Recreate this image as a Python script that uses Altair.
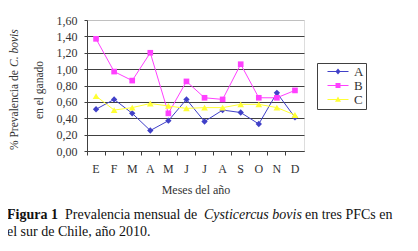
import json
import altair as alt
import pandas as pd

# ---- data ----
meses = ["E", "F", "M", "A", "M", "J", "J", "A", "S", "O", "N", "D"]
series = ["A", "B", "C"]
serie_a = [0.51, 0.63, 0.46, 0.25, 0.37, 0.63, 0.36, 0.50, 0.47, 0.33, 0.71, 0.41]
serie_b = [1.37, 0.97, 0.86, 1.20, 0.46, 0.85, 0.65, 0.63, 1.06, 0.65, 0.65, 0.74]
serie_c = [0.67, 0.50, 0.53, 0.58, 0.55, 0.52, 0.53, 0.53, 0.57, 0.57, 0.53, 0.44]
ticks_y = [0.0, 0.2, 0.4, 0.6, 0.8, 1.0, 1.2, 1.4, 1.6]

titulo_x = "Meses del año"
titulo_y1 = "% Prevalencia de "
titulo_y1_it = "C. bovis"
titulo_y2 = "en el ganado"
cap_bold = "Figura 1"
cap_1 = "Prevalencia mensual de"
cap_it = "Cysticercus bovis"
cap_2 = "en tres PFCs en"
cap_3 = "el sur de Chile, año 2010."

# ---- styles ----
colores = ["#4040c8", "#ff40ff", "#ffff33"]
formas = ["diamond", "square", "triangle-up"]
tamanos = [40, 32, 45]
linea = "M-2.1,-0.1H2.1V0.1H-2.1Z "
formas_leyenda = [
    linea + "M0,-0.6L0.5,0L0,0.6L-0.5,0Z",
    linea + "M-0.5,-0.5H0.5V0.5H-0.5Z",
    linea + "M0,-0.6L0.6,0.45H-0.6Z",
]
SERIF = "Liberation Serif, Times New Roman, serif"

rows = []
for nombre, vals in zip(series, [serie_a, serie_b, serie_c]):
    for i, v in enumerate(vals):
        rows.append({"mes": i, "serie": nombre, "valor": v})
df = pd.DataFrame(rows)

label_expr = json.dumps(meses) + "[datum.value]"

x_enc = alt.X(
    "mes:O",
    scale=alt.Scale(type="band", paddingInner=0, paddingOuter=0),
    axis=alt.Axis(
        title=titulo_x, bandPosition=0, labelExpr=label_expr,
        labelAngle=0, labelFont=SERIF, labelFontSize=12, labelColor="#333333",
        labelPadding=8, tickSize=4, tickColor="#404040", domainColor="#404040",
        titleFont=SERIF, titleFontSize=12, titleFontWeight="normal",
        titleColor="#333333", titlePadding=10, grid=False,
    ),
)
y_enc = alt.Y(
    "valor:Q",
    scale=alt.Scale(domain=[0, 1.6], nice=False),
    axis=alt.Axis(
        title=None, values=ticks_y,
        labelExpr="replace(format(datum.value, '.2f'), '.', ',')",
        labelFont=SERIF, labelFontSize=12, labelColor="#333333", labelPadding=7,
        tickSize=3, tickColor="#404040", domainColor="#404040",
        grid=True,
        gridColor={"condition": {"test": "datum.value >= 1.6", "value": "#c0c0c0"},
                   "value": "#404040"},
    ),
)

base = alt.Chart(df)

capas = []
for nombre, col in zip(series, colores):
    capas.append(
        base.transform_filter(alt.datum.serie == nombre)
        .mark_line(strokeWidth=1, color=col)
        .encode(x=x_enc, y=y_enc)
    )
for nombre, col, forma, tam in zip(series, colores, formas, tamanos):
    capas.append(
        base.transform_filter(alt.datum.serie == nombre)
        .mark_point(filled=True, shape=forma, size=tam, color=col, opacity=1)
        .encode(x=x_enc, y=y_enc)
    )

leg = alt.Legend(
    title=None, orient="none", legendX=230, legendY=43,
    strokeColor="#404040", fillColor="white", padding=2,
    symbolSize=100, symbolOffset=12.5, labelOffset=9.5, rowPadding=-2,
    labelFont=SERIF, labelFontSize=13, labelColor="#333333",
    symbolStrokeWidth=0, cornerRadius=0,
)
leyenda = base.transform_filter("datum.valor < 0").mark_point(
    filled=True, opacity=1
).encode(
    color=alt.Color("serie:N", scale=alt.Scale(domain=series, range=colores), legend=leg),
    shape=alt.Shape("serie:N", scale=alt.Scale(domain=series, range=formas_leyenda), legend=leg),
)


def texto(s, x, y, **kw):
    props = dict(text=s, align="left", baseline="middle", font=SERIF,
                 fontSize=11.5, color="#333333")
    props.update(kw)
    return alt.Chart(alt.Data(values=[{}])).mark_text(**props).encode(
        x=alt.value(x), y=alt.value(y)
    )


textos = [
    texto(titulo_y1, -72, 130, angle=270),
    texto(titulo_y1_it, -72, 47, angle=270, fontStyle="italic"),
    texto(titulo_y2, -47, 70, angle=270, align="center"),
    texto(cap_bold, -80, 195, fontSize=14, fontWeight="bold", color="#111111"),
    texto(cap_1, -22, 195, fontSize=14, color="#111111"),
    texto(cap_it, 117, 195, fontSize=14, fontStyle="italic", color="#111111"),
    texto(cap_2, 218, 195, fontSize=14, color="#111111"),
    texto(cap_3, -80, 212, fontSize=14, color="#111111"),
]

chart = alt.layer(*capas, leyenda, *textos).properties(
    width=217, height=131,
    autosize=alt.AutoSizeParams(type="none"),
    padding={"left": 79, "top": 12, "right": 106, "bottom": 92},
).configure_view(stroke="#c0c0c0").configure(background="white")

chart.save("out.html", embed_options={"renderer": "svg", "actions": False})
